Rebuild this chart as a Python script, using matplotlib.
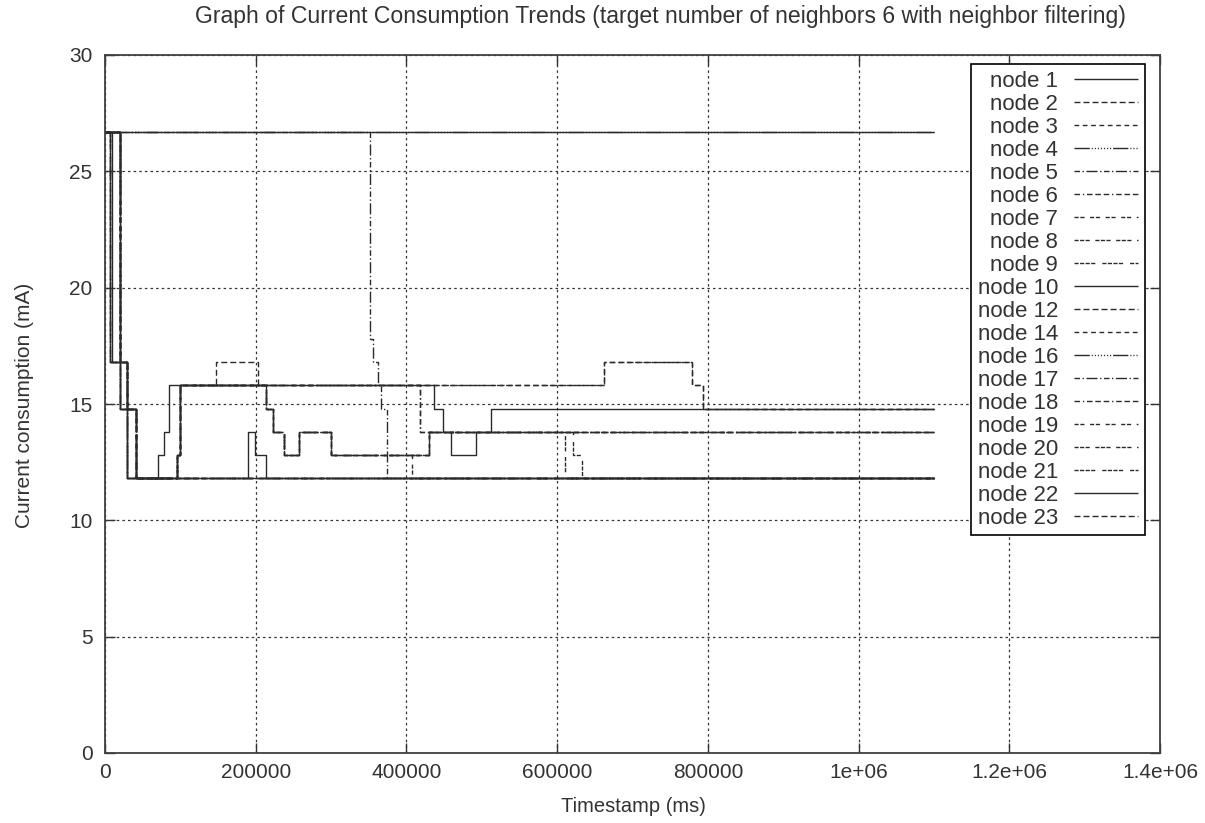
import matplotlib
matplotlib.use('Agg')
import matplotlib.pyplot as plt

plt.rcParams['font.family'] = ['Liberation Sans', 'DejaVu Sans']
plt.rcParams['font.size'] = 15

END_TIME = 1100000

# step data per node: times where the current changes (ms) and the new value (mA)
node_labels = ['node 1', 'node 2', 'node 3', 'node 4', 'node 5', 'node 6', 'node 7',
               'node 8', 'node 9', 'node 10', 'node 12', 'node 14', 'node 16', 'node 17',
               'node 18', 'node 19', 'node 20', 'node 21', 'node 22', 'node 23']

node_times = [
    [0],
    [0, 20000, 29000, 41000, 95500, 100000, 147000, 203000, 214000, 223000, 238000, 257000, 300000, 430000],
    [0, 20000, 29000, 41000, 95500, 100000, 662000, 779000, 794000],
    [0, 6600, 20000, 29000],
    [0, 352000, 355000, 362000, 366000, 374000],
    [0, 20000, 29000, 41000, 95500, 100000, 418000],
    [0, 20000, 29000, 41000, 95500, 100000, 214000, 223000, 238000, 257000, 300000, 407000],
    [0, 20000, 29000, 41000, 95500, 100000, 214000, 223000, 238000, 257000, 300000, 430000, 610000],
    [0, 20000, 29000, 41000, 95500, 100000, 214000, 223000, 238000, 257000, 300000, 430000, 621000, 633000],
    [0, 6600, 20000, 29000, 190000, 199000, 214000],
    [0, 20000, 29000, 41000],
    [0, 20000, 29000, 41000],
    [0],
    [0, 6600, 20000, 29000],
    [0, 20000, 29000, 41000, 95500, 100000, 418000],
    [0, 20000, 29000, 41000],
    [0, 20000, 29000, 41000, 95500, 100000, 214000, 223000, 238000, 257000, 300000, 430000],
    [0, 6600, 20000, 29000],
    [0, 9300, 20000, 29000, 70000, 78000, 85000, 437000, 448000, 459000, 492000, 512000],
    [0, 20000, 29000, 41000, 95500, 100000, 662000, 779000, 794000],
]

node_currents = [
    [26.7],
    [26.7, 16.8, 14.8, 11.8, 12.8, 15.8, 16.8, 15.8, 14.8, 13.8, 12.8, 13.8, 12.8, 13.8],
    [26.7, 16.8, 14.8, 11.8, 12.8, 15.8, 16.8, 15.8, 14.8],
    [26.7, 16.8, 14.8, 11.8],
    [26.7, 17.8, 16.8, 15.8, 14.8, 11.8],
    [26.7, 16.8, 14.8, 11.8, 12.8, 15.8, 13.8],
    [26.7, 16.8, 14.8, 11.8, 12.8, 15.8, 14.8, 13.8, 12.8, 13.8, 12.8, 11.8],
    [26.7, 16.8, 14.8, 11.8, 12.8, 15.8, 14.8, 13.8, 12.8, 13.8, 12.8, 13.8, 11.8],
    [26.7, 16.8, 14.8, 11.8, 12.8, 15.8, 14.8, 13.8, 12.8, 13.8, 12.8, 13.8, 12.8, 11.8],
    [26.7, 16.8, 14.8, 11.8, 13.8, 12.8, 11.8],
    [26.7, 16.8, 14.8, 11.8],
    [26.7, 16.8, 14.8, 11.8],
    [26.7],
    [26.7, 16.8, 14.8, 11.8],
    [26.7, 16.8, 14.8, 11.8, 12.8, 15.8, 13.8],
    [26.7, 16.8, 14.8, 11.8],
    [26.7, 16.8, 14.8, 11.8, 12.8, 15.8, 14.8, 13.8, 12.8, 13.8, 12.8, 13.8],
    [26.7, 16.8, 14.8, 11.8],
    [26.7, 16.8, 14.8, 11.8, 12.8, 13.8, 15.8, 14.8, 13.8, 12.8, 13.8, 14.8],
    [26.7, 16.8, 14.8, 11.8, 12.8, 15.8, 16.8, 15.8, 14.8],
]

x_ticks = [0, 200000, 400000, 600000, 800000, 1000000, 1200000, 1400000]
x_tick_labels = ['0', '200000', '400000', '600000', '800000', '1e+06', '1.2e+06', '1.4e+06']
y_ticks = [0, 5, 10, 15, 20, 25, 30]

# gnuplot-like dash types, cycled over the nodes
dash_styles = [
    (0, ()),
    (0, (4.3, 2.2)),
    (0, (3.4, 2.6)),
    (0, (11, 1.4, 0.8, 1.4, 0.8, 1.4, 0.8, 1.4, 0.8, 1.4, 0.8, 1.4, 0.8, 1.4, 0.8, 1.4)),
    (0, (4, 1.8, 1, 1.8, 8, 1.8, 1, 1.8)),
    (0, (4, 2, 1, 2, 4, 2, 4, 2)),
    (0, (3, 1.2, 3, 4)),
    (0, (3, 1, 3, 1, 3, 4)),
    (0, (3, 1, 3, 1, 3, 1, 3, 5)),
]
LINE_COLOR = '#2a2a2a'


def main():
    fig = plt.figure(figsize=(12.05, 8.23), dpi=100)
    ax = fig.add_axes([105 / 1205, 1 - 753 / 823, 1055 / 1205, 698 / 823])

    handles = []
    for i, label in enumerate(node_labels):
        times = node_times[i] + [END_TIME]
        currents = node_currents[i] + [node_currents[i][-1]]
        line, = ax.plot(times, currents, drawstyle='steps-post', color=LINE_COLOR,
                        linewidth=1.0, linestyle=dash_styles[i % len(dash_styles)], label=label)
        handles.append(line)

    ax.set_xlim(0, 1400000)
    ax.set_ylim(0, 30)
    ax.set_xticks(x_ticks)
    ax.set_xticklabels(x_tick_labels)
    ax.set_yticks(y_ticks)
    ax.tick_params(direction='in', length=7, width=1, top=True, right=True,
                   labelsize=15, colors='#333333', pad=9)
    ax.tick_params(axis='x', pad=7)
    for side in ax.spines.values():
        side.set_color('#404040')
        side.set_linewidth(1.3)
    ax.grid(True, color='#333333', linestyle=(0, (2, 2.5)), linewidth=0.9)

    leg = ax.legend(handles=handles, loc='upper right', bbox_to_anchor=(0.9858, 0.987),
                    markerfirst=False, fancybox=False, edgecolor='black', framealpha=1,
                    borderaxespad=0, borderpad=0.3, labelspacing=0.09, handlelength=2.9,
                    handletextpad=0.72, fontsize=16)
    leg.get_frame().set_linewidth(1.2)
    for text in leg.get_texts():
        text.set_color('#333333')

    fig.text(660 / 1205, 1 - 16 / 823, 'Graph of Current Consumption Trends '
             '(target number of neighbors 6 with neighbor filtering)',
             ha='center', va='center', fontsize=16.6, color='#333333')
    fig.text(633 / 1205, 1 - 806 / 823, 'Timestamp (ms)', ha='center', va='center',
             fontsize=14.5, color='#333333')
    fig.text(25 / 1205, 1 - 405 / 823, 'Current consumption (mA)', ha='center', va='center',
             rotation=90, fontsize=15, color='#333333')

    fig.savefig('out.png', dpi=100)


if __name__ == '__main__':
    main()
